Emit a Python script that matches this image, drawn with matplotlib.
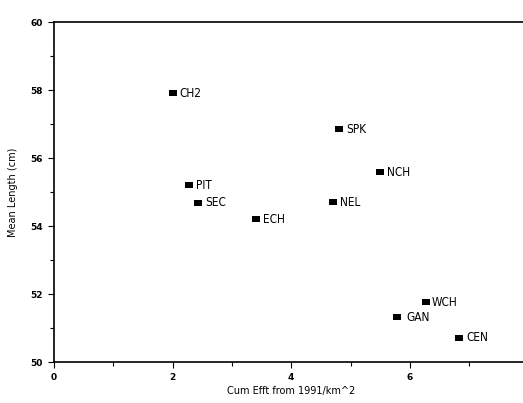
import matplotlib
matplotlib.use("Agg")
import matplotlib.pyplot as plt
from matplotlib.ticker import MultipleLocator

sites = ["CH2", "SPK", "NCH", "PIT", "SEC", "ECH", "NEL", "WCH", "GAN", "CEN"]
cum_effort = [2.00, 4.81, 5.50, 2.28, 2.43, 3.40, 4.70, 6.27, 5.78, 6.83]
mean_length = [57.90, 56.84, 55.58, 55.20, 54.69, 54.20, 54.70, 51.76, 51.31, 50.71]
label_pad = [5, 5, 5, 5, 5, 5, 5, 4, 7, 5]

rect = [(-1.4, -1), (1.4, -1), (1.4, 1), (-1.4, 1), (-1.4, -1)]

fig = plt.figure(figsize=(5.23, 4.03), dpi=100)
ax = fig.add_axes([54/523, 41/403, 474.4/523, 340/403])

ax.scatter(cum_effort, mean_length, marker=rect, s=40, color="black",
           linewidths=0, zorder=3)
for s, x, y, p in zip(sites, cum_effort, mean_length, label_pad):
    ax.annotate(s, (x, y), xytext=(p, 0), textcoords="offset points",
                va="center", ha="left", fontsize=8.5, family="DejaVu Sans",
                stretch="condensed")

ax.set_xlim(0, 8)
ax.set_ylim(50, 60)
ax.xaxis.set_minor_locator(MultipleLocator(1))
ax.yaxis.set_major_locator(MultipleLocator(2))
ax.yaxis.set_minor_locator(MultipleLocator(1))
ax.set_xticks([0, 2, 4, 6])
ax.tick_params(which="major", direction="out", length=4, width=0.8,
               labelsize=6.5, pad=4)
ax.tick_params(which="minor", direction="out", length=3, width=0.8)
for lab in ax.get_xticklabels() + ax.get_yticklabels():
    lab.set_fontweight("bold")
ax.spines["right"].set_visible(False)
for sp in ["left", "bottom", "top"]:
    ax.spines[sp].set_linewidth(1.2)

ax.set_xlabel("Cum Efft from 1991/km^2", fontsize=7, labelpad=3)
ax.set_ylabel("Mean Length (cm)", fontsize=7, labelpad=9)

fig.savefig("out.png", dpi=100)
